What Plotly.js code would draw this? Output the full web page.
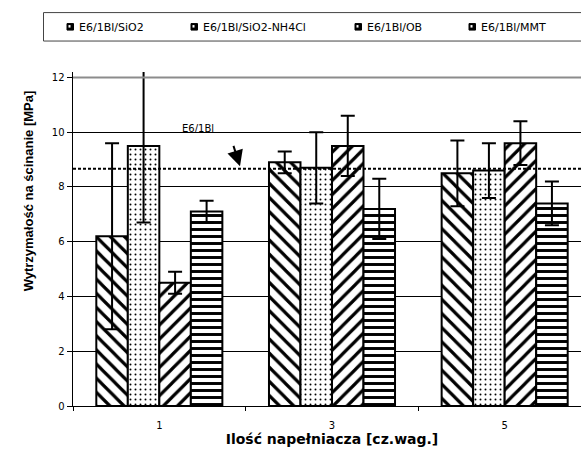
<!DOCTYPE html>
<html><head><meta charset="utf-8">
<script src="https://cdn.plot.ly/plotly-3.0.1.min.js"></script>
<style>html,body{margin:0;padding:0;overflow:hidden;background:#fff;width:581px;height:449px}</style>
</head><body><div id="chart" style="width:600px;height:449px"></div>
<script>
var categories = ['1', '3', '5'];
var seriesNames = ['E6/1Bl/SiO2', 'E6/1Bl/SiO2-NH4Cl', 'E6/1Bl/OB', 'E6/1Bl/MMT'];
var sio2 = [6.2, 8.9, 8.5];
var sio2Err = [3.4, 0.4, 1.2];
var nh4cl = [9.5, 8.7, 8.6];
var nh4clErr = [2.8, 1.3, 1.0];
var ob = [4.5, 9.5, 9.6];
var obErr = [0.4, 1.1, 0.8];
var mmt = [7.1, 7.2, 7.4];
var mmtErr = [0.4, 1.1, 0.8];
var referenceValue = 8.67;
var referenceLabel = 'E6/1Bl';

var values = [sio2, nh4cl, ob, mmt];
var errors = [sio2Err, nh4clErr, obErr, mmtErr];
var patterns = [
  {shape: '\\', size: 10, solidity: 0.32},
  {shape: '.', size: 5, solidity: 0.12},
  {shape: '/', size: 10, solidity: 0.32},
  {shape: '-', size: 7, solidity: 0.42}
];

var L = 73, R = 591, T = 71.5, B = 406;
function px2x(p){ return (p - L) / (R - L); }
function py2y(p){ return (B - p) / (B - T); }

var traces = seriesNames.map(function(n, i){
  return {
    type: 'bar', name: n, x: categories, y: values[i],
    marker: {color: '#fff', line: {color: '#000', width: 2},
      pattern: {shape: patterns[i].shape, size: patterns[i].size, solidity: patterns[i].solidity, fgcolor: '#000', bgcolor: '#fff', fillmode: 'replace'}},
    error_y: {type: 'data', array: errors[i], visible: true, color: '#000', thickness: 2, width: 7},
    showlegend: false
  };
});

var font = 'Liberation Sans, Arial, sans-serif';
var wfont = 'DejaVu Sans, Verdana, sans-serif';
var shapes = [
  {type: 'line', xref: 'paper', yref: 'y', x0: 0, x1: 1, y0: 12, y1: 12, line: {color: '#8c8c8c', width: 2}},
  {type: 'line', xref: 'paper', yref: 'y', x0: 0, x1: 1, y0: referenceValue, y1: referenceValue, line: {color: '#000', width: 2, dash: '3px,2px'}},
  {type: 'rect', xref: 'paper', yref: 'paper', x0: px2x(43.5), x1: px2x(620), y0: py2y(40.5), y1: py2y(12), line: {color: '#444', width: 1}, fillcolor: 'rgba(0,0,0,0)'}
];
var annotations = [
  {xref: 'paper', yref: 'paper', x: px2x(28), y: py2y(191), text: '<b>Wytrzymałość na ścinanie [MPa]</b>', textangle: -90, showarrow: false, font: {family: font, size: 13, color: '#000'}, xanchor: 'center', yanchor: 'middle'},
  {xref: 'paper', yref: 'paper', x: px2x(198), y: py2y(128), text: referenceLabel, showarrow: false, font: {family: wfont, size: 10, color: '#000'}, xanchor: 'center', yanchor: 'middle'},
  {xref: 'paper', yref: 'paper', x: px2x(240), y: py2y(166), text: '', showarrow: true, ax: -7, ay: -22, arrowhead: 2, arrowsize: 1.6, arrowwidth: 2, arrowcolor: '#000'}
];
var legendX = [70, 194, 358, 472];
seriesNames.forEach(function(n, i){
  var x0 = legendX[i] - 3;
  shapes.push({type: 'rect', xref: 'paper', yref: 'paper', x0: px2x(x0), x1: px2x(x0 + 6.5), y0: py2y(29.5), y1: py2y(23), line: {color: '#000', width: 1}, fillcolor: '#000'});
  shapes.push({type: 'rect', xref: 'paper', yref: 'paper', x0: px2x(x0 + 1.5), x1: px2x(x0 + 3.5), y0: py2y(27), y1: py2y(24.5), line: {width: 0}, fillcolor: '#fff'});
  annotations.push({xref: 'paper', yref: 'paper', x: px2x(legendX[i] + 7), y: py2y(26.5), text: n, showarrow: false, xanchor: 'left', yanchor: 'middle', font: {family: wfont, size: 11, color: '#000'}});
});

var layout = {
  width: 600, height: 449,
  margin: {l: L, r: 600 - R, t: T, b: 449 - B},
  paper_bgcolor: '#fff', plot_bgcolor: '#fff',
  barmode: 'group', bargap: 0.27, bargroupgap: 0,
  showlegend: false,
  font: {family: wfont, size: 10, color: '#000'},
  xaxis: {type: 'category', range: [-0.5, 2.5], tickson: 'boundaries', ticks: 'outside', ticklen: 4, tickcolor: '#000', tickwidth: 1,
    ticklabelstandoff: 10,
    showline: true, linecolor: '#000', linewidth: 1, showgrid: false, zeroline: false,
    tickfont: {family: wfont, size: 10, color: '#000'},
    title: {text: '<b>Ilość napełniacza [cz.wag.]</b>', font: {family: wfont, size: 14, color: '#000'}, standoff: 0}},
  yaxis: {range: [0, 12.2], tickvals: [0, 2, 4, 6, 8, 10, 12], ticks: 'outside', ticklen: 5, tickcolor: '#000', tickwidth: 1,
    showline: true, linecolor: '#000', linewidth: 1.5, showgrid: true, gridcolor: '#000', gridwidth: 1, zeroline: false,
    tickfont: {family: wfont, size: 10, color: '#000'}},
  shapes: shapes,
  annotations: annotations
};
Plotly.newPlot('chart', traces, layout, {displayModeBar: false, staticPlot: true});
</script></body></html>
